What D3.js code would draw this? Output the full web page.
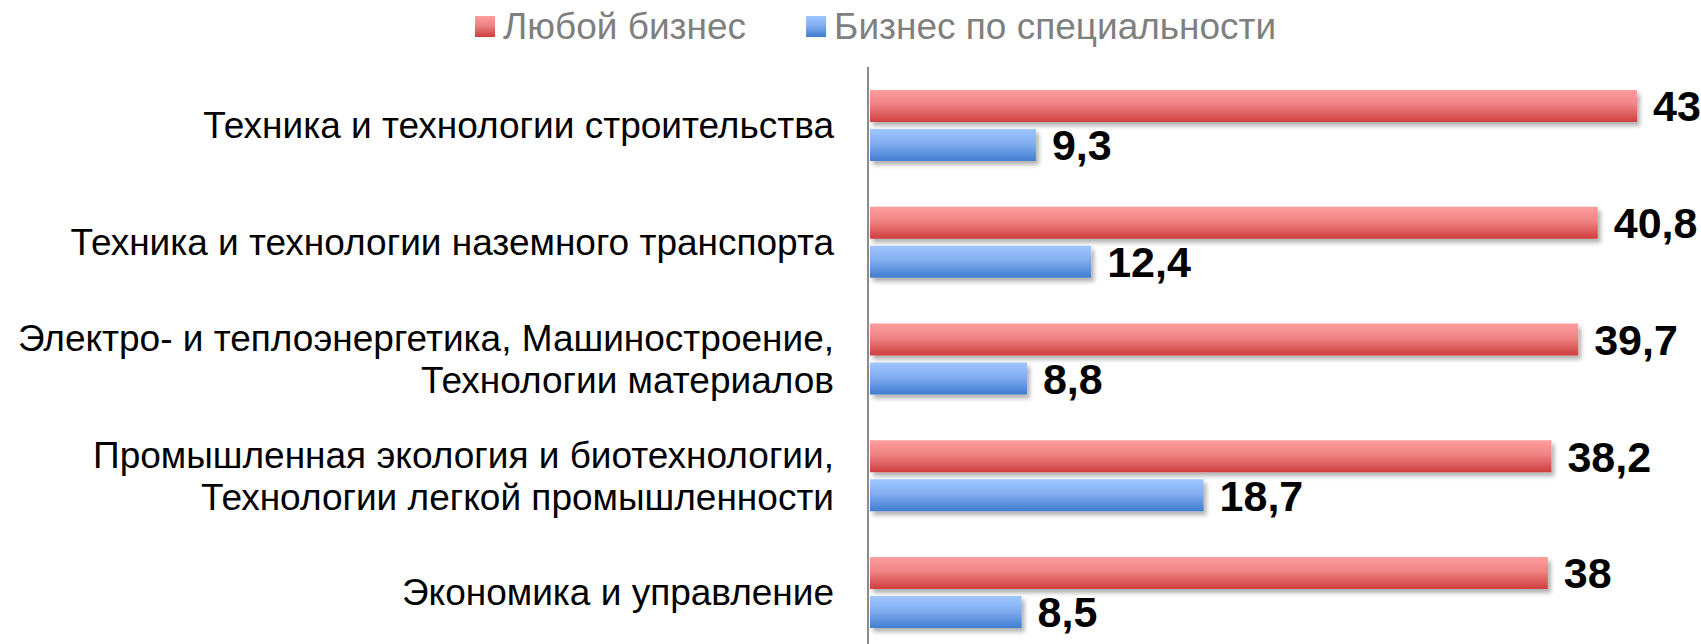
<!DOCTYPE html>
<html>
<head>
<meta charset="utf-8">
<script src="https://cdn.jsdelivr.net/npm/d3@7"></script>
<style>
  html, body { margin: 0; padding: 0; background: #fff; }
  svg { display: block; font-family: "Liberation Sans", Arial, sans-serif; }
</style>
</head>
<body>
<div id="chart"></div>
<script>
// data
const categories = [
  ["Техника и технологии строительства"],
  ["Техника и технологии наземного транспорта"],
  ["Электро- и теплоэнергетика, Машиностроение,", "Технологии материалов"],
  ["Промышленная экология и биотехнологии,", "Технологии легкой промышленности"],
  ["Экономика и управление"]
];
const seriesNames = ["Любой бизнес", "Бизнес по специальности"];
const anyBusiness = [43, 40.8, 39.7, 38.2, 38];
const specialtyBusiness = [9.3, 12.4, 8.8, 18.7, 8.5];
const seriesValues = [anyBusiness, specialtyBusiness];

const width = 1701, height = 644;

const svg = d3.select("#chart").append("svg")
  .attr("width", width)
  .attr("height", height);

const defs = svg.append("defs");

function grad(id, top, mid, bottom) {
  const g = defs.append("linearGradient")
    .attr("id", id)
    .attr("x1", 0).attr("y1", 0).attr("x2", 0).attr("y2", 1);
  g.append("stop").attr("offset", "0%").attr("stop-color", top);
  g.append("stop").attr("offset", "45%").attr("stop-color", mid);
  g.append("stop").attr("offset", "100%").attr("stop-color", bottom);
}
grad("g-red", "#ff9d9d", "#ef8383", "#cf3e3e");
grad("g-blue", "#9fc6ff", "#82aef0", "#3f7ccf");
const fills = ["url(#g-red)", "url(#g-blue)"];

defs.append("filter")
  .attr("id", "shadow")
  .attr("x", "-5%").attr("y", "-30%").attr("width", "110%").attr("height", "180%")
  .append("feDropShadow")
  .attr("dx", 3).attr("dy", 4).attr("stdDeviation", 2.2)
  .attr("flood-color", "#000").attr("flood-opacity", 0.3);

// scales
const x = d3.scaleLinear().domain([0, 43]).range([870, 1637]);

const y = d3.scaleBand()
  .domain(d3.range(categories.length))
  .range([67.1, 650.85])
  .paddingInner(0.392)
  .paddingOuter(0.196);

const ySub = d3.scaleBand()
  .domain(d3.range(seriesNames.length))
  .range([0, y.bandwidth()])
  .paddingInner(7 / 39);

// axis line
svg.append("line")
  .attr("x1", 868).attr("x2", 868)
  .attr("y1", 67).attr("y2", height)
  .attr("stroke", "#8c8c8c")
  .attr("stroke-width", 2);

// bars
const groups = svg.append("g")
  .selectAll("g")
  .data(categories)
  .join("g")
    .attr("transform", (d, i) => `translate(0,${y(i)})`);

groups.each(function(d, i) {
  const g = d3.select(this);
  seriesValues.forEach((vals, s) => {
    g.append("rect")
      .attr("x", x(0))
      .attr("y", ySub(s))
      .attr("width", x(vals[i]) - x(0))
      .attr("height", ySub.bandwidth())
      .attr("fill", fills[s])
      .attr("filter", "url(#shadow)");

    g.append("text")
      .attr("x", x(vals[i]) + 16)
      .attr("y", ySub(s) + ySub.bandwidth() / 2)
      .attr("dy", "0.36em")
      .attr("font-size", 43)
      .attr("font-weight", "bold")
      .attr("fill", "#000")
      .text(String(vals[i]).replace(".", ","));
  });

  // category label
  const cy = y.bandwidth() / 2;
  const lineH = 42;
  const t = g.append("text")
    .attr("text-anchor", "end")
    .attr("font-size", 37)
    .attr("fill", "#000");
  d.forEach((line, k) => {
    t.append("tspan")
      .attr("x", 834)
      .attr("y", cy + (k - (d.length - 1) / 2) * lineH)
      .attr("dy", "0.35em")
      .text(line);
  });
});

// legend
const legend = svg.append("g").attr("font-size", 37).attr("fill", "#7f7f7f");
let lx = 475;
seriesNames.forEach((name, s) => {
  legend.append("rect")
    .attr("x", lx).attr("y", 16)
    .attr("width", 20).attr("height", 21)
    .attr("fill", fills[s]);
  const txt = legend.append("text")
    .attr("x", lx + 28)
    .attr("y", 39)
    .text(name);
  lx = lx + 28 + txt.node().getComputedTextLength() + 60;
});
</script>
</body>
</html>
